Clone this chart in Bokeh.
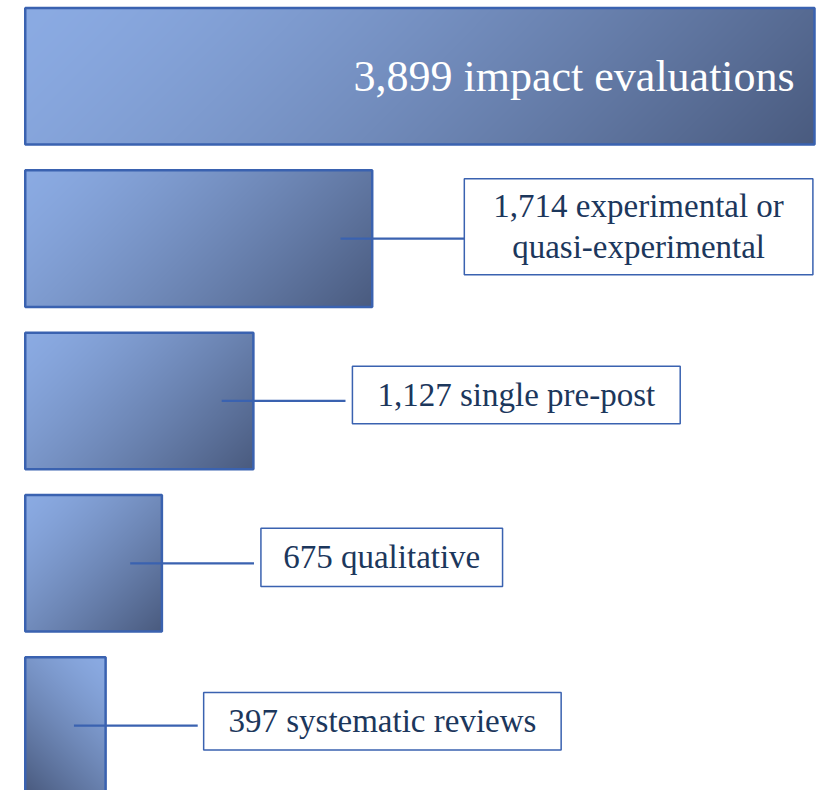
import numpy as np
from bokeh.plotting import figure
from bokeh.models import Range1d
from bokeh.core.properties import value
from bokeh.embed import file_html
from bokeh.resources import INLINE

# ---- data ----
categories = ["impact evaluations", "experimental or\nquasi-experimental",
              "single pre-post", "qualitative", "systematic reviews"]
counts = [3899, 1714, 1127, 675, 397]
labels = [f"{c:,} {cat}" for c, cat in zip(counts, categories)]

# ---- styling ----
W, H = 816, 790
fx, fy = W / 824.0, H / 798.0
left_px = 25 * fx
sx = 797 * fx / counts[0]            # px per unit
x_start = -left_px / sx
x_end = x_start + W / sx
row_px = 164.0 * fy
top_px = 76.5 * fy
y_end = top_px / row_px
y_start = -(H - top_px) / row_px
bar_h = 138.0 / 164.0

c_light = np.array([139, 171, 227], dtype=float)
c_dark = np.array([74, 91, 127], dtype=float)
edge = "#3a62b0"
text_col = "#1c375c"
serif = "Liberation Serif"

p = figure(width=W, height=H, output_backend="svg", toolbar_location=None,
           x_range=Range1d(x_start, x_end), y_range=Range1d(y_start, y_end),
           min_border=0, outline_line_color=None)
p.axis.visible = False
p.grid.visible = False
p.background_fill_color = "white"
p.border_fill_color = "white"

# gradient bars
for i, c in enumerate(counts):
    nx = max(2, int(round(c * sx)))
    ny = int(round(bar_h * row_px))
    xx = np.arange(nx, dtype=float)
    if i == len(counts) - 1:
        xx = xx[::-1]
    yy = np.arange(ny, dtype=float)
    t = (xx[None, :] + yy[:, None]) / (nx + ny - 2)
    t = t ** 1.35
    rgb = c_light[None, None, :] + (c_dark - c_light)[None, None, :] * t[:, :, None]
    rgb = rgb[::-1]  # row 0 at bottom
    img = np.empty((ny, nx), dtype=np.uint32)
    view = img.view(dtype=np.uint8).reshape((ny, nx, 4))
    view[:, :, 0:3] = np.clip(rgb, 0, 255).astype(np.uint8)
    view[:, :, 3] = 255
    p.image_rgba(image=[img], x=0, y=-i - bar_h / 2, dw=c, dh=bar_h)

ys = [-i for i in range(len(counts))]
p.quad(left=[0] * len(counts), right=counts,
       top=[y + bar_h / 2 for y in ys], bottom=[y - bar_h / 2 for y in ys],
       fill_color=None, line_color=edge, line_width=2.5)

# title inside first bar
p.text(x=[counts[0]], y=[ys[0]], text=[labels[0]], text_align="right",
       text_baseline="middle", x_offset=-20 * fx, text_color="white",
       text_font=value(serif), text_font_size="44px")

# connectors and label boxes
box_w = [352, 331, 244, 361]
box_h = [97, 58, 59, 58]
box_dy = [12, 6, 6, 4.5]
box_gap = [0, 7, 7, 6]
inset, line_len = 32, 125
for k, i in enumerate(range(1, len(counts))):
    c = counts[i]
    x0 = c - inset * fx / sx
    x1 = x0 + line_len * fx / sx
    p.segment(x0=[x0], y0=[ys[i]], x1=[x1], y1=[ys[i]], line_color=edge, line_width=2.2)
    left = x1 + box_gap[k] * fx / sx
    right = left + box_w[k] * fx / sx
    cy = ys[i] + box_dy[k] / 164.0
    hh = box_h[k] / 164.0 / 2
    p.quad(left=[left], right=[right], top=[cy + hh], bottom=[cy - hh],
           fill_color="white", line_color=edge, line_width=1.5)
    p.text(x=[(left + right) / 2], y=[cy], text=[labels[i]], text_align="center",
           text_baseline="middle", text_color=text_col, text_font=value(serif),
           text_font_size="33px", text_line_height=1.15)

open("out.html", "w").write(file_html(p, INLINE))
